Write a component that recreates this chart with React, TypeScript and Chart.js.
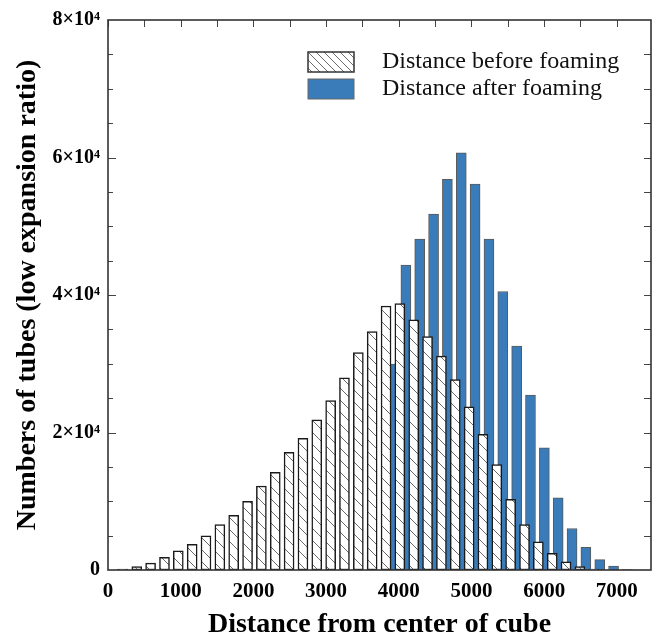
import React, { useEffect, useRef } from 'react';
import { Chart, registerables } from 'chart.js';

Chart.register(...registerables);

const FONT = "'Liberation Serif', 'Times New Roman', serif";

// Bin centres (distance units) and counts
const beforeX = [205, 396, 586, 777, 967, 1158, 1348, 1539, 1729, 1920, 2110, 2301, 2491, 2682, 2872, 3063, 3253, 3444, 3634, 3825, 4015, 4206, 4396, 4587, 4777, 4968, 5158, 5349, 5539, 5730, 5920, 6111, 6301, 6492, 6682, 6873];
const beforeCounts = [150, 500, 990, 1840, 2780, 3720, 4970, 6620, 7970, 10000, 12220, 14200, 17100, 19170, 21840, 24640, 27970, 31640, 34680, 38400, 38740, 36380, 33960, 31120, 27680, 23720, 19750, 15320, 10290, 6620, 4100, 2420, 1200, 480, 145, 40];

const afterX = [3907, 4098, 4288, 4479, 4669, 4860, 5050, 5241, 5431, 5622, 5812, 6003, 6193, 6384, 6574, 6765, 6955, 7146];
const afterCounts = [29960, 44350, 48120, 51780, 56810, 60680, 56130, 48120, 40510, 32570, 25460, 17780, 10480, 6040, 3290, 1500, 580, 60];

const xTicks = [0, 1000, 2000, 3000, 4000, 5000, 6000, 7000];
const yTicks = [0, 20000, 40000, 60000, 80000];

const seriesLabels = ['Distance before foaming', 'Distance after foaming'];
const BLUE = '#3a7bb9';

function makeHatch(size: number, color: string) {
  const c = document.createElement('canvas');
  c.width = size;
  c.height = size;
  const g = c.getContext('2d')!;
  g.fillStyle = '#ffffff';
  g.fillRect(0, 0, size, size);
  g.strokeStyle = color;
  g.lineWidth = 1;
  for (const off of [-size, 0, size]) {
    g.beginPath();
    g.moveTo(off, 0);
    g.lineTo(off + size, size);
    g.stroke();
  }
  return g.createPattern(c, 'repeat')!;
}

export default function App() {
  const ref = useRef<HTMLCanvasElement | null>(null);

  useEffect(() => {
    const canvas = ref.current!;
    const ctx = canvas.getContext('2d')!;
    const barHatch = makeHatch(12, '#6a6a6a');
    const legendHatch = makeHatch(8, '#6a6a6a');

    const framePlugin = {
      id: 'frame',
      afterDraw(chart: any) {
        const { ctx: c, chartArea: a, scales } = chart;
        const x = scales.x;
        const y = scales.y;
        c.save();
        // inside ticks
        c.strokeStyle = '#444';
        c.lineWidth = 1;
        for (let v = 0; v <= 7000; v += 500) {
          const px = Math.round(x.getPixelForValue(v)) + 0.5;
          c.beginPath();
          c.moveTo(px, a.top);
          c.lineTo(px, a.top + 7);
          c.stroke();
        }
        for (let v = 5000; v < 80000; v += 5000) {
          const py = Math.round(y.getPixelForValue(v)) + 0.5;
          const major = v % 20000 === 0;
          c.beginPath();
          c.moveTo(a.left, py);
          c.lineTo(a.left + (major ? 8 : 5), py);
          c.stroke();
          c.beginPath();
          c.moveTo(a.right, py);
          c.lineTo(a.right - 7, py);
          c.stroke();
        }
        // frame
        c.strokeStyle = '#333';
        c.lineWidth = 1.6;
        c.strokeRect(a.left, a.top, a.right - a.left, a.bottom - a.top);

        // legend
        const ds = chart.data.datasets;
        const bx = a.left + 200;
        const rows = [a.top + 42, a.top + 69];
        ds.forEach((d: any, i: number) => {
          const cy = rows[i];
          c.fillStyle = i === 0 ? legendHatch : d.backgroundColor;
          c.fillRect(bx, cy - 10, 46, 20);
          c.strokeStyle = i === 0 ? '#333' : '#666';
          c.lineWidth = i === 0 ? 1.5 : 1;
          c.strokeRect(bx, cy - 10, 46, 20);
          c.fillStyle = '#111';
          c.font = `24px ${FONT}`;
          c.textBaseline = 'middle';
          c.textAlign = 'left';
          c.fillText(d.label, bx + 74, cy);
        });
        c.restore();
      },
    };

    const chart = new Chart(ctx, {
      type: 'bar',
      data: {
        datasets: [
          {
            label: seriesLabels[0],
            data: beforeX.map((v, i) => ({ x: v, y: beforeCounts[i] })),
            backgroundColor: barHatch,
            borderColor: '#1a1a1a',
            borderWidth: 1.5,
            borderSkipped: false,
            barThickness: 10,
            grouped: false,
          } as any,
          {
            label: seriesLabels[1],
            data: afterX.map((v, i) => ({ x: v, y: afterCounts[i] })),
            backgroundColor: BLUE,
            borderColor: '#5a5a5a',
            borderWidth: 1,
            borderSkipped: false,
            barThickness: 10,
            grouped: false,
          } as any,
        ],
      },
      options: {
        responsive: false,
        animation: false,
        devicePixelRatio: 1,
        layout: { padding: { top: 18, right: 1, left: 0, bottom: 0 } },
        plugins: { legend: { display: false }, tooltip: { enabled: false } },
        scales: {
          x: {
            type: 'linear',
            min: 0,
            max: 7470,
            offset: false,
            grid: { display: false, drawTicks: false },
            border: { display: false },
            afterBuildTicks: (s: any) => {
              s.ticks = xTicks.map((v) => ({ value: v }));
            },
            afterFit: (s: any) => {
              s.height = 72;
            },
            ticks: {
              color: '#000',
              padding: 9,
              maxRotation: 0,
              autoSkip: false,
              font: { family: FONT, size: 21, weight: 'bold' },
              callback: (v: any) => String(v),
            },
            title: {
              display: true,
              text: 'Distance from center of cube',
              color: '#000',
              font: { family: FONT, size: 28, weight: 'bold' },
              padding: { top: -5, bottom: 0 },
            },
          },
          y: {
            type: 'linear',
            min: 0,
            max: 80000,
            grid: { display: false, drawTicks: false },
            border: { display: false },
            afterBuildTicks: (s: any) => {
              s.ticks = yTicks.map((v) => ({ value: v }));
            },
            afterFit: (s: any) => {
              s.width = 108;
            },
            ticks: {
              color: '#000',
              padding: 8,
              font: { family: FONT, size: 20, weight: 'bold' },
              callback: (v: any) => (v === 0 ? '0' : `${v / 10000}×10⁴`),
            },
            title: {
              display: true,
              text: 'Numbers of tubes (low expansion ratio)',
              color: '#000',
              font: { family: FONT, size: 28, weight: 'bold' },
              padding: { top: 11, bottom: 0 },
            },
          },
        },
      } as any,
      plugins: [framePlugin],
    });
    return () => chart.destroy();
  }, []);

  return (
    <div style={{ position: 'fixed', left: 0, top: 0, width: 652, height: 642, background: '#fff' }}>
      <canvas ref={ref} width={652} height={642} style={{ display: 'block' }} />
    </div>
  );
}
